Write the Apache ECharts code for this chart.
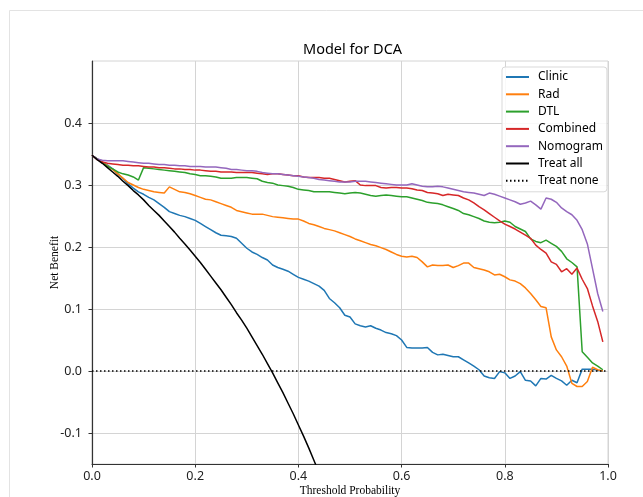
<!DOCTYPE html>
<html>
<head>
<meta charset="utf-8">
<script src="https://cdn.jsdelivr.net/npm/echarts@6/dist/echarts.min.js"></script>
<style>
  html, body { margin: 0; padding: 0; background: #fff; }
  #chart { width: 643px; height: 497px; }
</style>
</head>
<body>
<div id="chart"></div>
<script>
// thresholds 0.00 .. 0.99
const thresholds = [];
for (let i = 0; i < 100; i++) thresholds.push(i / 100);

const clinic = [
  0.348, 0.342, 0.337, 0.332, 0.326, 0.318, 0.310, 0.302, 0.295, 0.289,
  0.285, 0.280, 0.276, 0.270, 0.264, 0.257, 0.254, 0.251, 0.249, 0.246,
  0.243, 0.238, 0.233, 0.228, 0.223, 0.219, 0.218, 0.217, 0.214, 0.206,
  0.198, 0.192, 0.188, 0.183, 0.179, 0.171, 0.167, 0.164, 0.161, 0.156,
  0.151, 0.148, 0.145, 0.141, 0.137, 0.130, 0.117, 0.110, 0.102, 0.090,
  0.087, 0.076, 0.073, 0.071, 0.073, 0.069, 0.066, 0.062, 0.060, 0.057,
  0.050, 0.038, 0.037, 0.037, 0.037, 0.038, 0.030, 0.026, 0.027, 0.025,
  0.023, 0.023, 0.018, 0.013, 0.008, 0.002, -0.008, -0.011, -0.012, -0.001,
  -0.003, -0.012, -0.008, -0.001, -0.015, -0.016, -0.024, -0.012, -0.013, -0.007,
  -0.012, -0.016, -0.023, -0.015, -0.019, 0.003, 0.003, 0.003, 0.001, 0.000
];
const rad = [
  0.348, 0.342, 0.337, 0.331, 0.325, 0.318, 0.311, 0.304, 0.300, 0.296,
  0.293, 0.291, 0.289, 0.288, 0.287, 0.297, 0.293, 0.289, 0.288, 0.286,
  0.283, 0.280, 0.277, 0.276, 0.273, 0.270, 0.267, 0.264, 0.259, 0.257,
  0.255, 0.253, 0.253, 0.253, 0.251, 0.249, 0.248, 0.247, 0.246, 0.245,
  0.245, 0.242, 0.238, 0.236, 0.233, 0.230, 0.228, 0.226, 0.223, 0.220,
  0.217, 0.213, 0.210, 0.207, 0.204, 0.202, 0.199, 0.196, 0.192, 0.188,
  0.185, 0.184, 0.185, 0.183, 0.176, 0.168, 0.171, 0.170, 0.170, 0.171,
  0.167, 0.170, 0.174, 0.174, 0.167, 0.165, 0.163, 0.160, 0.155, 0.156,
  0.152, 0.147, 0.145, 0.141, 0.134, 0.125, 0.115, 0.104, 0.102, 0.055,
  0.034, 0.023, 0.008, -0.020, -0.025, -0.025, -0.017, 0.006, 0.002, 0.000
];
const dtl = [
  0.348, 0.342, 0.336, 0.330, 0.326, 0.321, 0.318, 0.316, 0.313, 0.308,
  0.328, 0.327, 0.326, 0.325, 0.324, 0.323, 0.322, 0.321, 0.320, 0.318,
  0.317, 0.315, 0.315, 0.314, 0.313, 0.311, 0.311, 0.311, 0.312, 0.312,
  0.312, 0.311, 0.310, 0.306, 0.304, 0.303, 0.300, 0.299, 0.298, 0.296,
  0.293, 0.292, 0.291, 0.289, 0.289, 0.289, 0.289, 0.288, 0.287, 0.286,
  0.287, 0.288, 0.287, 0.285, 0.283, 0.282, 0.283, 0.284, 0.283, 0.282,
  0.281, 0.281, 0.279, 0.277, 0.275, 0.272, 0.271, 0.270, 0.268, 0.265,
  0.262, 0.259, 0.254, 0.252, 0.249, 0.246, 0.242, 0.240, 0.239, 0.240,
  0.242, 0.240, 0.233, 0.229, 0.225, 0.213, 0.209, 0.207, 0.211, 0.206,
  0.201, 0.193, 0.181, 0.175, 0.168, 0.031, 0.022, 0.013, 0.008, 0.002
];
const combined = [
  0.348, 0.341, 0.337, 0.335, 0.334, 0.333, 0.332, 0.332, 0.331, 0.331,
  0.330, 0.329, 0.329, 0.328, 0.328, 0.327, 0.326, 0.326, 0.325, 0.325,
  0.324, 0.324, 0.323, 0.322, 0.322, 0.321, 0.321, 0.321, 0.320, 0.320,
  0.320, 0.320, 0.319, 0.318, 0.317, 0.318, 0.318, 0.317, 0.316, 0.315,
  0.315, 0.313, 0.312, 0.312, 0.312, 0.311, 0.311, 0.309, 0.307, 0.305,
  0.306, 0.307, 0.300, 0.299, 0.299, 0.299, 0.296, 0.295, 0.296, 0.296,
  0.295, 0.295, 0.294, 0.292, 0.291, 0.288, 0.287, 0.286, 0.283, 0.285,
  0.284, 0.283, 0.279, 0.276, 0.271, 0.265, 0.260, 0.254, 0.248, 0.242,
  0.237, 0.233, 0.229, 0.224, 0.219, 0.214, 0.203, 0.196, 0.190, 0.176,
  0.172, 0.160, 0.165, 0.156, 0.166, 0.148, 0.133, 0.105, 0.080, 0.047
];
const nomogram = [
  0.348, 0.342, 0.340, 0.339, 0.339, 0.339, 0.339, 0.338, 0.337, 0.336,
  0.335, 0.335, 0.334, 0.333, 0.333, 0.332, 0.332, 0.331, 0.331, 0.330,
  0.330, 0.330, 0.329, 0.329, 0.329, 0.328, 0.327, 0.325, 0.325, 0.324,
  0.323, 0.323, 0.322, 0.320, 0.319, 0.318, 0.318, 0.317, 0.316, 0.315,
  0.314, 0.313, 0.312, 0.311, 0.309, 0.308, 0.307, 0.306, 0.305, 0.305,
  0.305, 0.306, 0.306, 0.306, 0.305, 0.304, 0.303, 0.302, 0.301, 0.300,
  0.300, 0.300, 0.302, 0.300, 0.298, 0.297, 0.297, 0.298, 0.297, 0.295,
  0.293, 0.291, 0.289, 0.288, 0.287, 0.285, 0.283, 0.287, 0.285, 0.282,
  0.279, 0.276, 0.273, 0.269, 0.271, 0.274, 0.268, 0.261, 0.279, 0.277,
  0.272, 0.263, 0.257, 0.252, 0.243, 0.228, 0.205, 0.165, 0.125, 0.096
];
// treat all, read up to where it leaves the plot
const treatAll = [
  0.348, 0.341, 0.335, 0.328, 0.321, 0.314, 0.306, 0.299, 0.291, 0.284,
  0.276, 0.267, 0.259, 0.251, 0.242, 0.233, 0.224, 0.214, 0.205, 0.195,
  0.185, 0.175, 0.164, 0.153, 0.142, 0.131, 0.119, 0.107, 0.094, 0.082,
  0.069, 0.055, 0.041, 0.027, 0.012, -0.003, -0.019, -0.035, -0.052, -0.069,
  -0.087, -0.105, -0.124, -0.144, -0.164
];
const treatNoneX = [0, 1];
const treatNoneY = [0, 0];

const names = ['Clinic', 'Rad', 'DTL', 'Combined', 'Nomogram', 'Treat all', 'Treat none'];
const colors = ['#1f77b4', '#ff7f0e', '#2ca02c', '#d62728', '#9467bd', '#000000', '#000000'];
const yTicks = [-0.1, 0.0, 0.1, 0.2, 0.3, 0.4];

function pairs(xs, ys) {
  return ys.map((v, i) => [xs[i], v]);
}

const seriesData = [
  pairs(thresholds, clinic),
  pairs(thresholds, rad),
  pairs(thresholds, dtl),
  pairs(thresholds, combined),
  pairs(thresholds, nomogram),
  pairs(thresholds, treatAll),
  pairs(treatNoneX, treatNoneY)
];

const sans = '"Noto Sans", "DejaVu Sans", sans-serif';
const serif = '"Liberation Serif", "DejaVu Serif", serif';

const chart = echarts.init(document.getElementById('chart'), null, { renderer: 'canvas' });
chart.setOption({
  animation: false,
  backgroundColor: '#ffffff',
  graphic: [{
    type: 'rect',
    shape: { x: 9.5, y: 10.5, width: 700, height: 600 },
    style: { fill: 'none', stroke: '#e3e3e3', lineWidth: 1 },
    silent: true
  }],
  title: {
    text: 'Model for DCA',
    left: 303,
    top: 42,
    padding: 0,
    textStyle: { fontFamily: sans, fontSize: 14.5, fontWeight: 'normal', color: '#000' }
  },
  grid: {
    left: 92, right: 35, top: 61, bottom: 33,
    outerBoundsMode: 'none',
    containLabel: false,
    show: true, borderColor: '#d4d4d4', borderWidth: 1, backgroundColor: 'transparent'
  },
  legend: {
    orient: 'vertical',
    left: 502, top: 67,
    padding: [3, 4, 4, 3],
    itemWidth: 23, itemHeight: 14, itemGap: 3.3,
    itemStyle: { opacity: 0 },
    backgroundColor: 'rgba(255,255,255,0.85)',
    borderColor: '#d9d9d9', borderWidth: 1, borderRadius: 3,
    data: names,
    textStyle: { fontFamily: sans, fontSize: 12, color: '#000', padding: [0, 0, 0, 4], lineHeight: 14 }
  },
  xAxis: {
    type: 'value', min: 0, max: 1, interval: 0.2,
    name: 'Threshold Probability', nameLocation: 'middle', nameGap: 21,
    nameMoveOverlap: false,
    nameTextStyle: { fontFamily: serif, fontSize: 11.5, color: '#000' },
    axisLine: { show: true, onZero: false, lineStyle: { color: '#333', width: 1.2 } },
    axisTick: { show: true, length: 3.5, lineStyle: { color: '#333' } },
    axisLabel: {
      margin: 6, fontFamily: sans, fontSize: 12.5, color: '#222',
      formatter: v => v.toFixed(1)
    },
    splitLine: { show: true, lineStyle: { color: '#d4d4d4', width: 1 } }
  },
  yAxis: {
    type: 'value', min: -0.15, max: 0.5,
    name: 'Net Benefit', nameLocation: 'middle', nameGap: 31, nameRotate: 90,
    nameMoveOverlap: false,
    nameTextStyle: { fontFamily: serif, fontSize: 11.5, color: '#000' },
    axisLine: { show: true, lineStyle: { color: '#333', width: 1.2 } },
    axisTick: { show: true, length: 3.5, customValues: yTicks, lineStyle: { color: '#333' } },
    axisLabel: {
      margin: 10, fontFamily: sans, fontSize: 12.5, color: '#222',
      customValues: yTicks,
      formatter: v => v.toFixed(1)
    },
    splitLine: { show: true, lineStyle: { color: '#d4d4d4', width: 1 } }
  },
  series: names.map((name, k) => ({
    type: 'line',
    name: name,
    data: seriesData[k],
    symbol: 'none',
    color: colors[k],
    lineStyle: {
      width: 1.5,
      color: colors[k],
      type: k === 6 ? [1.5, 2.5] : 'solid'
    }
  }))
});
</script>
</body>
</html>
